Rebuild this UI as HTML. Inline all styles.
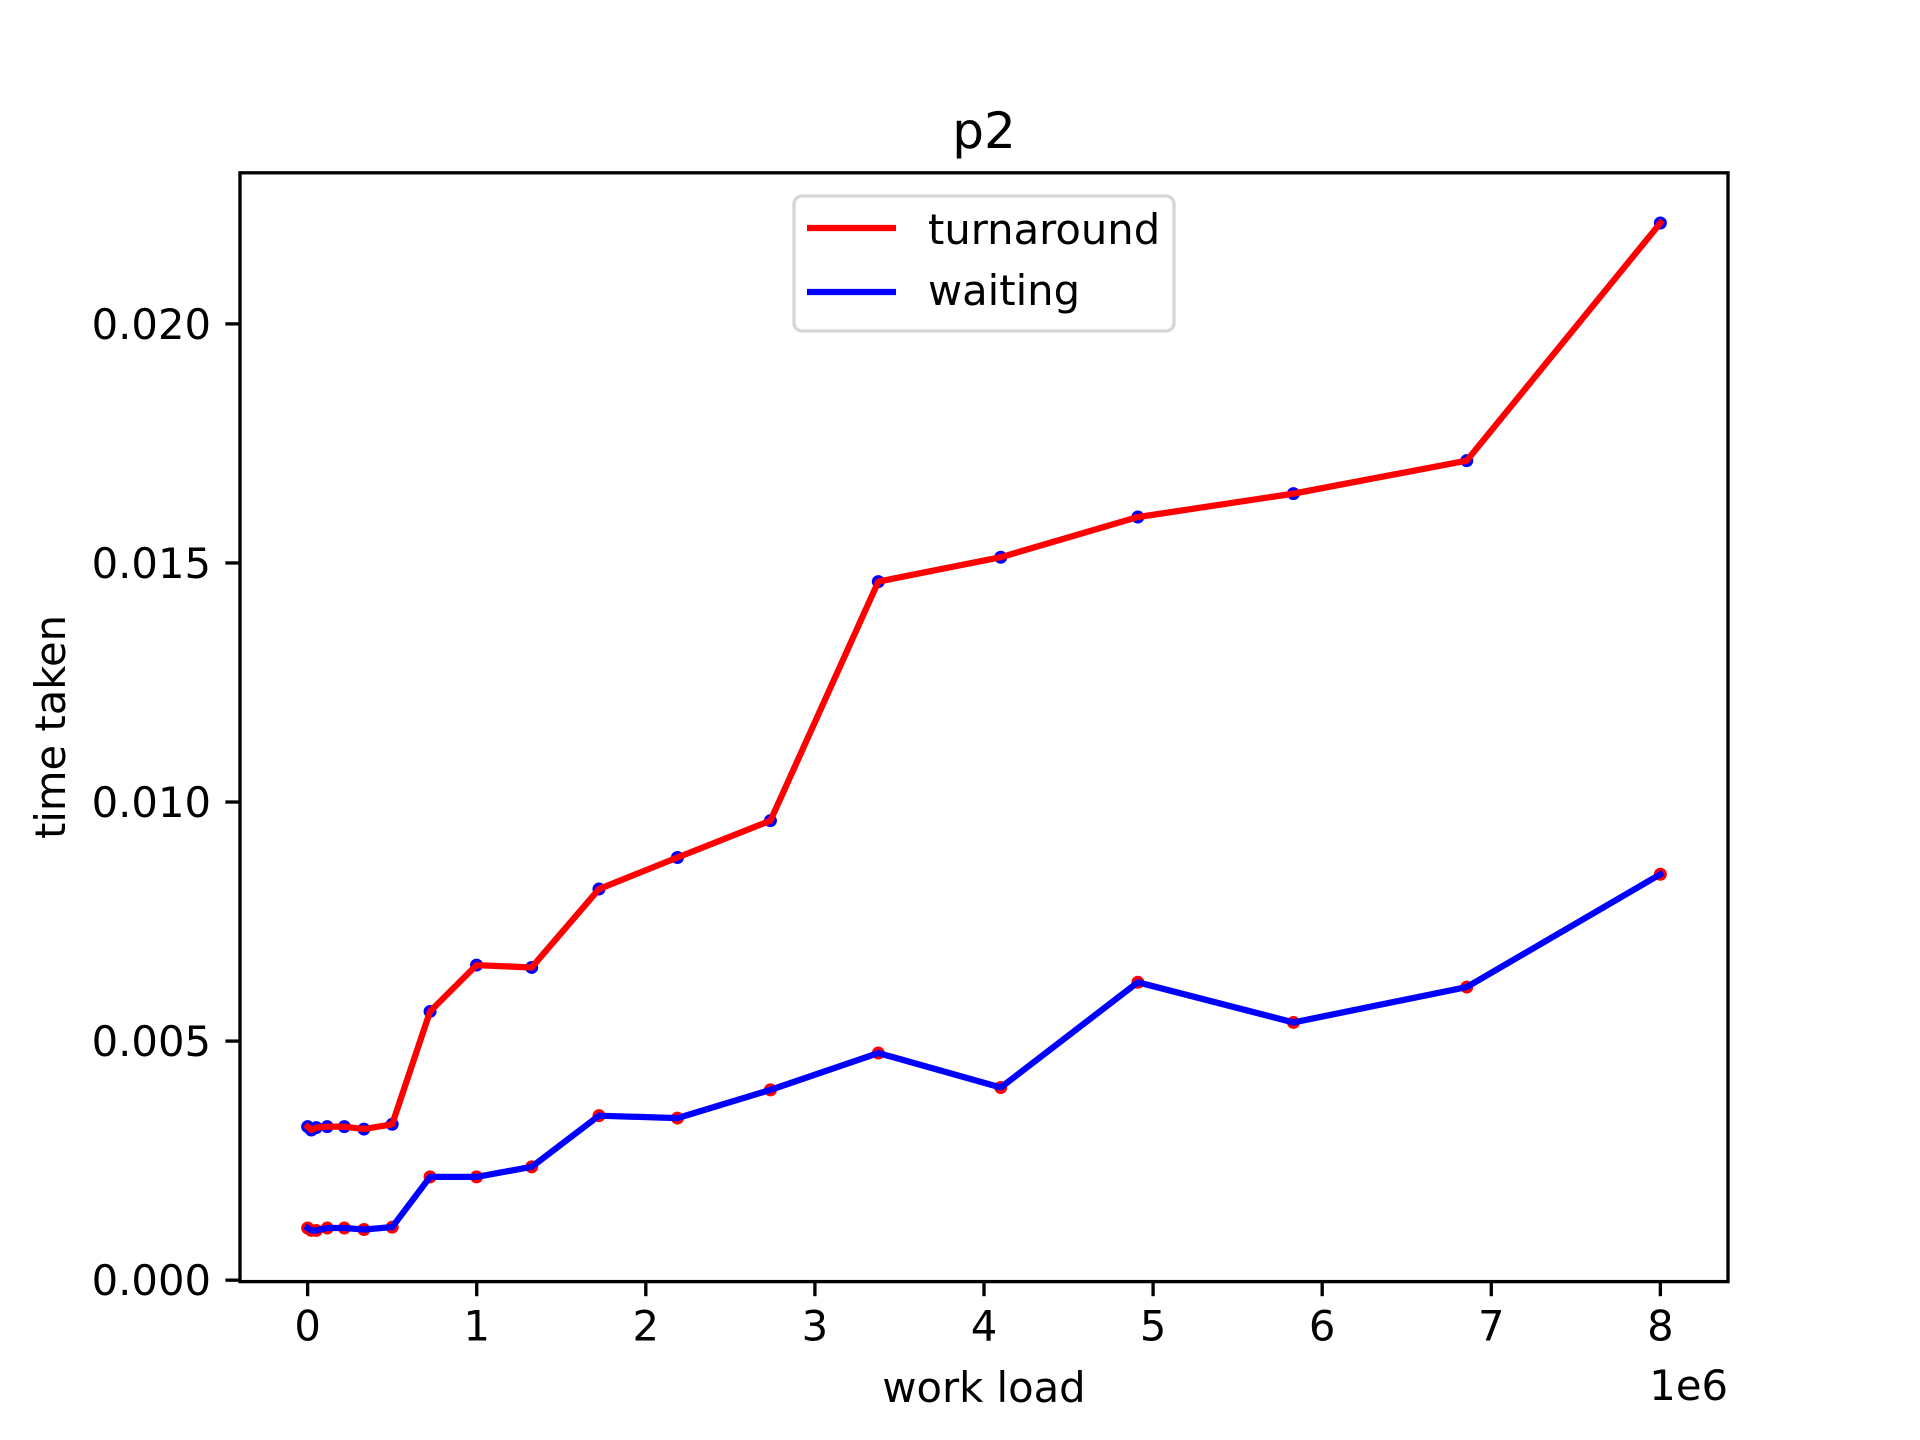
<!DOCTYPE html>
<html><head><meta charset="utf-8"><style>
html,body{margin:0;padding:0;background:#fff;}
svg{display:block;}
text{font-family:"DejaVu Sans","Liberation Sans",sans-serif;fill:#000;}
</style></head><body>
<svg id="chart" width="1920" height="1440" viewBox="0 0 1920 1440" xmlns="http://www.w3.org/2000/svg">
<rect width="1920" height="1440" fill="#fff"/>
<g id="plot"></g>
</svg>
<script>
const workLoad = [0, 0.022, 0.051, 0.116, 0.217, 0.333, 0.5, 0.724, 0.999, 1.325, 1.723, 2.187, 2.737, 3.375, 4.099, 4.91, 5.83, 6.855, 8.0];
const turnaround = [0.00321, 0.00314, 0.00319, 0.00321, 0.00321, 0.00316, 0.00326, 0.00562, 0.00659, 0.00654, 0.00818, 0.00884, 0.00961, 0.01461, 0.01512, 0.01596, 0.01645, 0.01714, 0.02211];
const waiting = [0.00109, 0.00104, 0.00104, 0.00109, 0.00109, 0.00106, 0.00111, 0.00216, 0.00216, 0.00237, 0.00344, 0.00339, 0.00398, 0.00475, 0.00403, 0.00623, 0.00539, 0.00613, 0.00849];
const xTicks = [0, 1, 2, 3, 4, 5, 6, 7, 8];
const yTicks = [0, 0.005, 0.010, 0.015, 0.020];
const yTickLabels = ["0.000", "0.005", "0.010", "0.015", "0.020"];

const L=240, R=1728, T=172.8, B=1281.6;
const xmin=-0.4, xmax=8.4, ymin=-0.00003, ymax=0.02316;
const sx = v => L + (v - xmin) / (xmax - xmin) * (R - L);
const sy = v => B - (v - ymin) / (ymax - ymin) * (B - T);
const NS = "http://www.w3.org/2000/svg";
const g = document.getElementById('plot');
function mk(tag, attrs, parent) {
  const e = document.createElementNS(NS, tag);
  for (const k in attrs) e.setAttribute(k, attrs[k]);
  (parent || g).appendChild(e);
  return e;
}

const dots = mk('g', {});


workLoad.forEach((x, i) => {
  const c1 = mk('circle', {cx: sx(x), cy: sy(turnaround[i]), r: 6.5, fill: '#0000ff'}, dots);
  
  
  const c2 = mk('circle', {cx: sx(x), cy: sy(waiting[i]), r: 6.5, fill: '#ff0000'}, dots);
  
  
});

const tl = mk('polyline', {points: workLoad.map((x, i) => sx(x) + ',' + sy(turnaround[i])).join(' '), fill: 'none', stroke: '#ff0000', 'stroke-width': 6.25, 'stroke-linejoin': 'round', 'stroke-linecap': 'square'});


const wl = mk('polyline', {points: workLoad.map((x, i) => sx(x) + ',' + sy(waiting[i])).join(' '), fill: 'none', stroke: '#0000ff', 'stroke-width': 6.25, 'stroke-linejoin': 'round', 'stroke-linecap': 'square'});



const fr = mk('rect', {x: L, y: T, width: R - L, height: B - T, fill: 'none', stroke: '#000', 'stroke-width': 3.33});



xTicks.forEach(v => {
  const x = sx(v);
  const t = mk('line', {x1: x, x2: x, y1: B, y2: B + 14.6, stroke: '#000', 'stroke-width': 3.33});
  
  
  const lb = mk('text', {x: x, y: B + 59, 'font-size': 41.7, 'text-anchor': 'middle'});
  lb.textContent = String(v);
  
  
});
yTicks.forEach((v, i) => {
  const y = sy(v);
  const t = mk('line', {x1: L - 14.6, x2: L, y1: y, y2: y, stroke: '#000', 'stroke-width': 3.33});
  
  
  const lb = mk('text', {x: L - 29, y: y + 15, 'font-size': 41.7, 'text-anchor': 'end'});
  lb.textContent = yTickLabels[i];
  
  
});
</script>
<svg style="position:absolute;left:0;top:0" width="1920" height="1440" viewBox="0 0 1920 1440" xmlns="http://www.w3.org/2000/svg">
<text x="984" y="148" font-size="50" text-anchor="middle">p2</text>
<text x="984" y="1402" font-size="41.7" text-anchor="middle">work load</text>
<text x="1728" y="1400" font-size="41.7" text-anchor="end">1e6</text>
<text x="0" y="0" font-size="41.7" text-anchor="middle" transform="translate(65,727) rotate(-90)">time taken</text>
<g>
<rect x="794" y="196" width="380" height="135" rx="8" fill="#fff" fill-opacity="0.8" stroke="#d6d6d6" stroke-width="3.3"/>
<line x1="807" y1="228" x2="896" y2="228" stroke="#ff0000" stroke-width="6.25"/>
<text x="928" y="244" font-size="41.7">turnaround</text>
<line x1="807" y1="292" x2="896" y2="292" stroke="#0000ff" stroke-width="6.25"/>
<text x="928" y="305" font-size="41.7">waiting</text>
</g>
</svg>
</body></html>
